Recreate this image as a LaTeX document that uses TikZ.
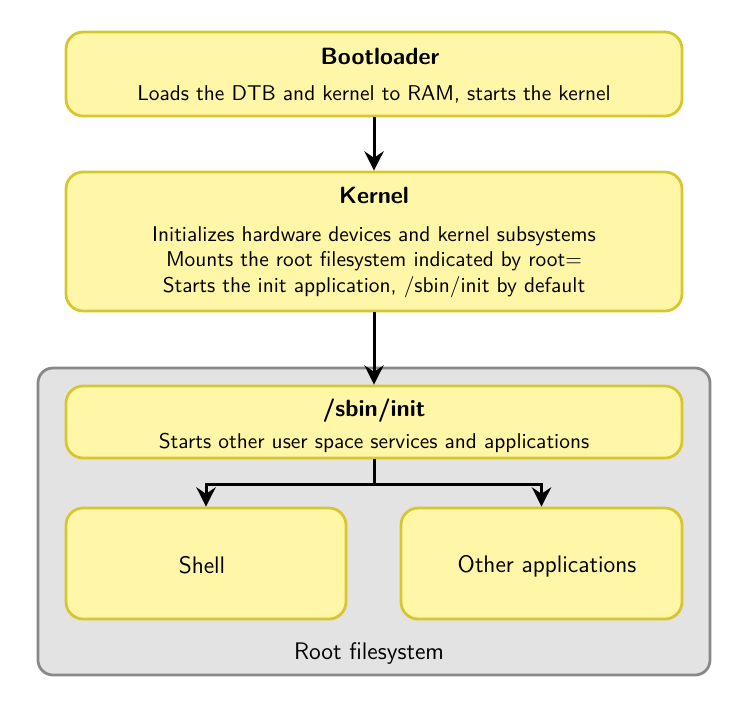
\documentclass[tikz,border=0pt]{standalone}
\usetikzlibrary{arrows.meta,fit}
\definecolor{boxfill}{HTML}{FFF6A8}
\definecolor{boxline}{HTML}{D8C62E}
\definecolor{fsfill}{HTML}{E3E3E3}
\definecolor{fsline}{HTML}{888888}
\tikzset{
  yelbox/.style={inner sep=0pt, rounded corners=8pt, fill=boxfill, draw=boxline, line width=1.3pt},
  fsbox/.style={inner sep=0pt, rounded corners=7pt, fill=fsfill, draw=fsline, line width=1.3pt},
  ttl/.style={font=\sffamily\bfseries\fontsize{11}{13.2}\selectfont, inner sep=0pt},
  txt/.style={font=\sffamily, inner sep=0pt, align=center},
  lbl/.style={font=\sffamily\fontsize{11.2}{13.4}\selectfont, inner sep=0pt},
  arr/.style={-{Stealth[length=9pt,width=9pt,inset=3pt]}, line width=1.4pt}
}
\begin{document}
\begin{tikzpicture}[x=0.468pt,y=-0.468pt]
\useasboundingbox (0,0) rectangle (744,708);
\coordinate (fsA) at (38,368); \coordinate (fsB) at (710,675);
\coordinate (bA) at (66,32); \coordinate (bB) at (682,116);
\coordinate (kA) at (66,172); \coordinate (kB) at (682,311);
\coordinate (iA) at (66,386); \coordinate (iB) at (682,458);
\coordinate (sA) at (66,508); \coordinate (sB) at (346,619);
\coordinate (oA) at (401,508); \coordinate (oB) at (682,619);
\node[fsbox, fit=(fsA)(fsB)] (fs) {};
\node[yelbox, fit=(bA)(bB)] (boot) {};
\node[yelbox, fit=(kA)(kB)] (kern) {};
\node[yelbox, fit=(iA)(iB)] (init) {};
\node[yelbox, fit=(sA)(sB)] (shell) {};
\node[yelbox, fit=(oA)(oB)] (other) {};
\node[ttl] (bootT) at (380,56) {Bootloader};
\node[txt] (bootD) at (374,94) {Loads the DTB and kernel to RAM, starts the kernel};
\node[ttl] (kernT) at (374,195) {Kernel};
\node[txt] (kernD) at (374,262) {Initializes hardware devices and kernel subsystems\\Mounts the root filesystem indicated by root=\\Starts the init application, /sbin/init by default};
\node[ttl] (initT) at (374,411) {/sbin/init};
\node[txt] (initD) at (374,443) {Starts other user space services and applications};
\node[lbl] (shellT) at (202,565) {Shell};
\node[lbl] (otherT) at (547,566) {Other applications};
\node[lbl] (fsT) at (369,653) {Root filesystem};
\draw[arr] (boot.south) -- (kern.north);
\draw[arr] (kern.south) -- (init.north);
\draw[arr] (init.south) -- ++(0,25) -| (shell.north);
\draw[arr] (init.south) -- ++(0,25) -| (other.north);
\end{tikzpicture}
\end{document}
